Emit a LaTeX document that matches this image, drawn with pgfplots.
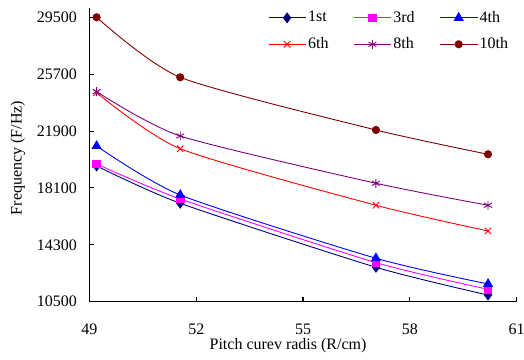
\documentclass[border=0pt]{standalone}
\usepackage{fontspec}
\setmainfont{Liberation Serif}
\usepackage{pgfplots}
\pgfplotsset{compat=1.18}
\definecolor{cA}{RGB}{0,0,128}
\definecolor{cB}{RGB}{255,0,255}
\definecolor{cC}{RGB}{0,0,255}
\definecolor{cD}{RGB}{255,0,0}
\definecolor{cE}{RGB}{128,0,128}
\definecolor{cF}{RGB}{128,0,0}
\begin{document}
\fontsize{16bp}{19bp}\selectfont
\begin{tikzpicture}
\begin{axis}[
  scale only axis,
  width=427bp, height=293.7bp,
  xmin=49, xmax=61, ymin=10500, ymax=30120,
  xtick={49,52,55,58,61},
  ytick={10500,14300,18100,21900,25700,29500},
  scaled y ticks=false,
  axis lines*=left,
  axis line style={line width=1.1pt, black},
  tick style={line width=1.1pt, black},
  major tick length=5bp,
  tick align=inside,
  /pgf/number format/assume math mode=true,
  /pgf/number format/1000 sep={},
  xticklabel style={yshift=-17bp},
  yticklabel style={xshift=-7bp},
  xlabel={Pitch curev radis (R/cm)},
  ylabel={Frequency (F/Hz)},
  xlabel style={at={(axis description cs:0.465,-0.151)}, anchor=center},
  ylabel style={at={(axis description cs:-0.168,0.489)}, anchor=center, rotate=0},
  every axis plot/.append style={line width=0.9pt, smooth, tension=0.4,
    legend image code/.code={\draw[mark repeat=2,mark phase=2] plot coordinates {(0bp,0bp) (18.5bp,0bp) (37bp,0bp)};}},
  legend columns=3,
  legend style={draw=none, fill=none, at={(rel axis cs:0.418,0.997)}, anchor=north west,
    inner sep=0pt,
    /tikz/every even column/.append style={column sep=23bp},
    row sep=9bp},
  legend cell align=left,
]
\addplot[cA, mark=diamond*, mark size=4.8bp, mark options={solid}] coordinates {(49.2,19567) (51.55,17076) (57.05,12800) (60.2,10945)};
\addlegendentry{1st}
\addplot[cB, mark=square*, mark size=3.8bp] coordinates {(49.2,19700) (51.55,17363) (57.05,13112) (60.2,11330)};
\addlegendentry{3rd}
\addplot[cC, mark=triangle*, mark size=5bp] coordinates {(49.2,20903) (51.55,17630) (57.05,13401) (60.2,11685)};
\addlegendentry{4th}
\addplot[cD, mark=x, mark size=4.5bp] coordinates {(49.2,24463) (51.55,20723) (57.05,16942) (60.2,15225)};
\addlegendentry{6th}
\addplot[cE, mark=asterisk, mark size=4.5bp] coordinates {(49.2,24530) (51.55,21571) (57.05,18411) (60.2,16942)};
\addlegendentry{8th}
\addplot[cF, mark=*, mark size=3.6bp] coordinates {(49.2,29500) (51.55,25490) (57.05,21972) (60.2,20348)};
\addlegendentry{10th}
\end{axis}
\pgfresetboundingbox
\useasboundingbox (-89.5bp,-58.3bp) rectangle (434.5bp,301.7bp);
\end{tikzpicture}
\end{document}
